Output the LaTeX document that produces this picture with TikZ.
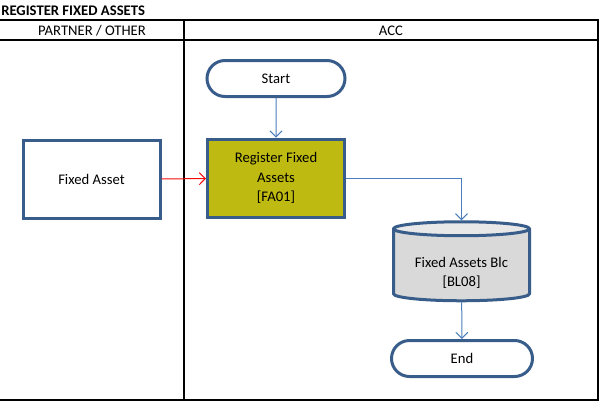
\documentclass[tikz,border=0pt]{standalone}
\usepackage{fontspec}
\setmainfont{Carlito}
\usetikzlibrary{arrows.meta, positioning, shapes.geometric, shapes.misc}
\definecolor{boxline}{RGB}{56, 93, 138}
\definecolor{flowblue}{RGB}{74, 126, 187}
\definecolor{flowred}{RGB}{245, 10, 10}
\definecolor{olivefill}{RGB}{190, 186, 18}
\definecolor{dbfill}{RGB}{217, 217, 217}
\definecolor{dbtop}{RGB}{232, 232, 232}
\newlength\px
\setlength\px{0.75pt}

\begin{document}
\begin{tikzpicture}[x=0.75pt, y=-0.75pt,
          txt/.style={font=\fontsize{11}{13.5}\selectfont,
                      align=center, inner sep=0pt},
          term/.style={txt, rounded rectangle, draw=boxline,
                       line width=3\px, fill=white,
                       minimum width=138\px, minimum height=36\px},
          proc/.style={txt, rectangle, draw=boxline,
                       line width=3\px,
                       minimum width=137\px, minimum height=78\px},
          db/.style={txt, cylinder, shape border rotate=90,
                     aspect=0.15, draw=boxline, line width=3\px,
                     cylinder uses custom fill,
                     cylinder body fill=dbfill,
                     cylinder end fill=dbtop,
                     minimum width=136\px, minimum height=79\px},
          flow/.style={draw=flowblue, line width=0.75pt,
                       -{Straight Barb[length=4.5pt, width=9pt]}},
          lane/.style={draw=black, line width=1pt},
      ]
      \useasboundingbox (0,0) rectangle (599,401);
      \node[txt, anchor=west, font=\fontsize{11}{13.5}\selectfont\bfseries]
          (title) at (1,11) {REGISTER FIXED ASSETS};
      \draw[lane] (0,20) -- (598,20) -- (598,400) -- (0,400);
      \draw[lane] (0,40) -- (598,40);
      \draw[lane] (184,20) -- (184,400);
      \node[txt] (partner) at (92,31) {PARTNER / OTHER};
      \node[txt] (acc) at (391,31) {ACC};
      \node[term] (start) at (276,78.5) {Start};
      \node[proc, fill=olivefill] (reg) at (276,178)
          {Register Fixed\\[1pt]Assets\\[1pt]{[FA01]}};
      \node[proc, fill=white] (asset) at (91.5,179.5) {Fixed Asset};
      \node[db] (blc) at (461.5,265.5)
          {\rule{0pt}{19pt}Fixed Assets Blc\\[1pt]{[BL08]}};
      \node[term, minimum width=141\px] (end) at (462,358.5) {End};
      \draw[flow] (start) -- (reg);
      \draw[flow, draw=flowred] (asset) -- (reg);
      \draw[flow] (reg.east) -| (blc);
      \draw[flow] (blc) -- (end);
      \end{tikzpicture}
\end{document}
